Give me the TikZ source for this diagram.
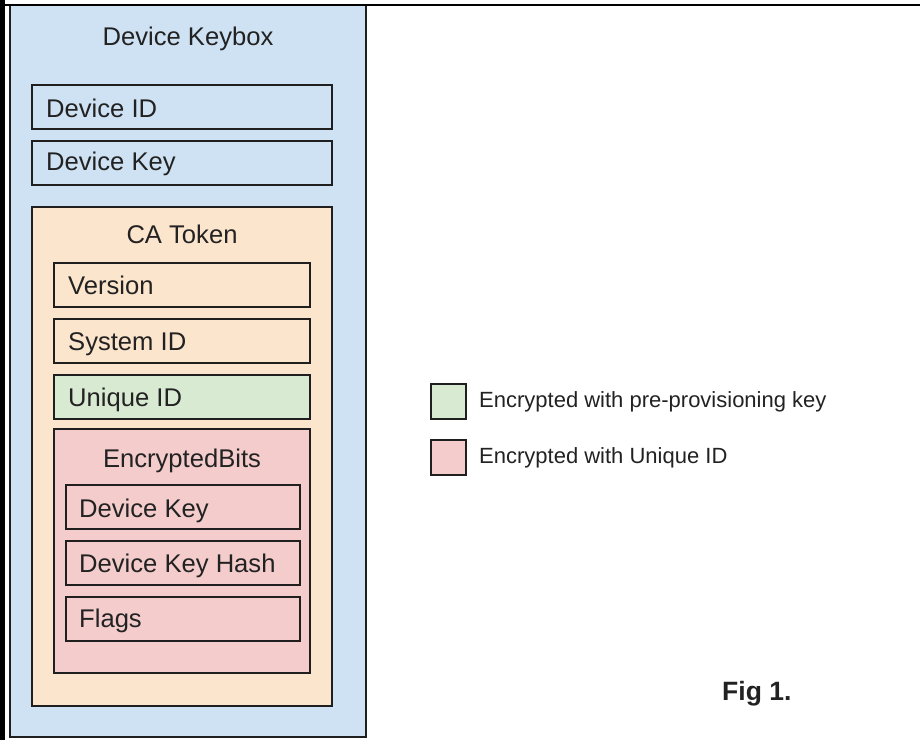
\documentclass[tikz,border=0pt]{standalone}
\usepackage{fontspec}
\setmainfont{Liberation Sans}
\definecolor{kbblue}{HTML}{CFE2F3}
\definecolor{caorange}{HTML}{FCE5CD}
\definecolor{encgreen}{HTML}{D9EAD3}
\definecolor{encpink}{HTML}{F4CCCC}
\definecolor{txt}{HTML}{222222}
\begin{document}
\begin{tikzpicture}[x=1pt,y=-1pt,
  box/.style={draw=black!88,line width=1.8pt,inner sep=0pt,outer sep=0pt,anchor=north west},
  lbl/.style={anchor=base west,inner sep=0pt,text=txt,font=\fontsize{25.6}{30}\selectfont},
  ttl/.style={anchor=base,inner sep=0pt,text=txt,font=\fontsize{25.6}{30}\selectfont},
  leg/.style={anchor=base west,inner sep=0pt,text=txt,font=\fontsize{22}{26}\selectfont}]
\useasboundingbox (0,0) rectangle (920,740);
\fill[white] (0,0) rectangle (920,740);
% outer keybox
\node[box,fill=kbblue,minimum width=356pt,minimum height=732pt] (keybox) at (10,5) {};
% frame lines
\draw[black,line width=2pt] (0,5) coordinate (tl) -- (920,5) coordinate (tr);
\draw[black,line width=5pt] (2.5,0) coordinate (lt) -- (2.5,740) coordinate (lb);
\node[ttl] (keyboxt) at (188,45) {Device Keybox};
% device id / key
\node[box,fill=kbblue,minimum width=300pt,minimum height=44pt] (devid) at (32,85) {};
\node[lbl] (devidt) at (46,117) {Device ID};
\node[box,fill=kbblue,minimum width=300pt,minimum height=44pt] (devkey) at (32,141) {};
\node[lbl] (devkeyt) at (46,170) {Device Key};
% CA token
\node[box,fill=caorange,minimum width=300pt,minimum height=499pt] (ca) at (32,207) {};
\node[ttl] (cat) at (182,243) {CA Token};
\node[box,fill=caorange,minimum width=256pt,minimum height=44pt] (ver) at (54,263) {};
\node[lbl] (vert) at (68,294) {Version};
\node[box,fill=caorange,minimum width=256pt,minimum height=44pt] (sys) at (54,319) {};
\node[lbl] (syst) at (68,350) {System ID};
\node[box,fill=encgreen,minimum width=256pt,minimum height=44pt] (uid) at (54,375) {};
\node[lbl] (uidt) at (68,406) {Unique ID};
% encrypted bits
\node[box,fill=encpink,minimum width=256pt,minimum height=244pt] (enc) at (54,429) {};
\node[ttl] (enct) at (182,467) {EncryptedBits};
\node[box,fill=encpink,minimum width=234pt,minimum height=44pt] (edk) at (66,485) {};
\node[lbl] (edkt) at (79,517) {Device Key};
\node[box,fill=encpink,minimum width=234pt,minimum height=44pt] (edh) at (66,541) {};
\node[lbl] (edht) at (79,572) {Device Key Hash};
\node[box,fill=encpink,minimum width=234pt,minimum height=44pt] (efl) at (66,597) {};
\node[lbl] (eflt) at (79,627) {Flags};
% legend
\node[box,fill=encgreen,minimum width=35pt,minimum height=35pt] (leg1) at (431,384) {};
\node[leg] (leg1t) at (479,407) {Encrypted with pre-provisioning key};
\node[box,fill=encpink,minimum width=35pt,minimum height=35pt] (leg2) at (431,440) {};
\node[leg] (leg2t) at (479,463) {Encrypted with Unique ID};
% fig label
\node[anchor=base west,inner sep=0pt,text=txt,font=\fontsize{26.5}{31}\selectfont\bfseries] (fig) at (722,700) {Fig 1.};
\end{tikzpicture}
\end{document}
